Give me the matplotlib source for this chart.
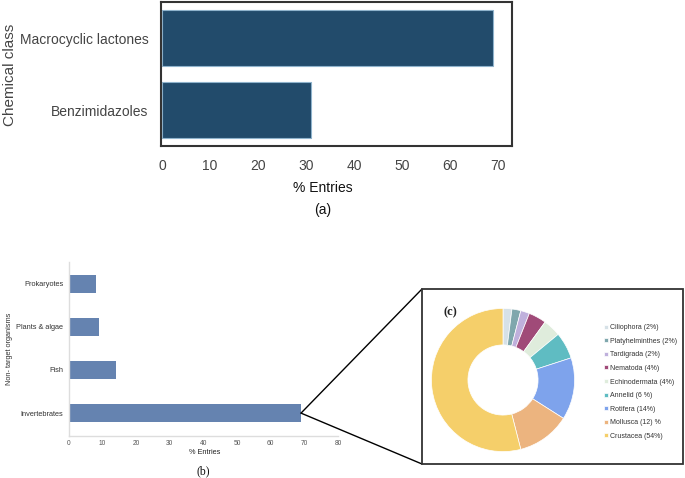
import numpy as np
import matplotlib
matplotlib.use("Agg")
import matplotlib.pyplot as plt
from matplotlib.patches import Rectangle, ConnectionPatch

plt.rcParams['font.family'] = ['Liberation Sans', 'DejaVu Sans']

# --------------------------------------------------------
# Data
# --------------------------------------------------------
chem_classes = ['Macrocyclic lactones', 'Benzimidazoles']
chem_entries = [69, 31]

organisms = ['Invertebrates', 'Fish', 'Plants & algae', 'Prokaryotes']
org_entries = [69, 14, 9, 8]

inv_groups = ['Ciliophora (2%)', 'Platyhelminthes (2%)', 'Tardigrada (2%)',
              'Nematoda (4%)', 'Echinodermata (4%)', 'Annelid (6 %)',
              'Rotifera (14%)', 'Mollusca (12) %', 'Crustacea (54%)']
inv_share = [2, 2, 2, 4, 4, 6, 14, 12, 54]
inv_colors = ['#d6e1e7', '#7fa7ad', '#bfb0dc', '#a04a78', '#dfecdc',
              '#5fbcc2', '#7ea3ec', '#ecb47f', '#f5cf6a']

W, H = 685, 478
fig = plt.figure(figsize=(W / 100, H / 100), dpi=100)


def box(x0, y0, x1, y1):
    # pixel box (top-left origin) -> figure fraction rect
    return [x0 / W, 1 - y1 / H, (x1 - x0) / W, (y1 - y0) / H]


def fx(x):
    return x / W


def fy(y):
    return 1 - y / H


# --------------------------------------------------------
# (a) chemical class
# --------------------------------------------------------
ax_a = fig.add_axes(box(161, 2, 512, 146))
ax_a.barh(range(len(chem_classes)), chem_entries, height=0.77,
          color='#224b6b', edgecolor='#8fb3cc', linewidth=0.8)
ax_a.set_xlim(-0.2, 72.9)
ax_a.set_ylim(1.5, -0.5)
ax_a.set_yticks(range(len(chem_classes)))
ax_a.set_yticklabels(chem_classes)
ax_a.set_xticks(np.arange(0, 71, 10))
ax_a.tick_params(length=0, labelsize=10, labelcolor='#444444')
ax_a.tick_params(axis='y', pad=9)
ax_a.tick_params(axis='x', pad=9)
for sp in ax_a.spines.values():
    sp.set_color('#333333')
    sp.set_linewidth(1.5)
fig.text(fx(10), fy(75), 'Chemical class', rotation=90, ha='center',
         va='center', fontsize=11, color='#444444')
fig.text(fx(323), fy(188), '% Entries', ha='center', va='center',
         fontsize=10, color='#111111')
fig.text(fx(323), fy(210), '(a)', ha='center', va='center',
         fontsize=10, color='#111111')

# --------------------------------------------------------
# (b) non-target organisms
# --------------------------------------------------------
ax_b = fig.add_axes(box(69, 262, 338, 436))
ax_b.barh(range(len(organisms)), org_entries, height=0.42, color='#6583b0')
ax_b.set_xlim(0, 80)
ax_b.set_ylim(-0.53, 3.5)
ax_b.set_yticks(range(len(organisms)))
ax_b.set_yticklabels(organisms)
ax_b.set_xticks(np.arange(0, 81, 10))
ax_b.tick_params(length=0, labelsize=5.3, labelcolor='#333333')
ax_b.tick_params(axis='x', labelsize=4.8, pad=3, labelcolor='#555555')
ax_b.tick_params(axis='y', pad=4)
for side in ['top', 'right']:
    ax_b.spines[side].set_visible(False)
for side in ['left', 'bottom']:
    ax_b.spines[side].set_color('#dddddd')
    ax_b.spines[side].set_linewidth(1.0)
fig.text(fx(10), fy(349), 'Non- target organisms', rotation=90, ha='center',
         va='center', fontsize=5.3, color='#333333')
fig.text(fx(205), fy(453), '% Entries', ha='center', va='center',
         fontsize=5.3, color='#222222')
fig.text(fx(203), fy(471), '(b)', ha='center', va='center',
         fontsize=8.5, family='Liberation Serif', color='#111111')

# --------------------------------------------------------
# (c) invertebrate breakdown
# --------------------------------------------------------
frame = Rectangle((fx(422), fy(464)), fx(683) - fx(422), fy(289) - fy(464),
                  transform=fig.transFigure, fill=False,
                  edgecolor='#333333', linewidth=1.3)
fig.patches.append(frame)

# zoom lines from invertebrates bar end to the box
for yc in [289, 464]:
    con = ConnectionPatch(xyA=(org_entries[0], 0), coordsA=ax_b.transData,
                          xyB=(fx(422), fy(yc)), coordsB=fig.transFigure,
                          color='black', linewidth=1.0)
    fig.add_artist(con)

ax_c = fig.add_axes(box(430, 307, 576, 453))
wedges, _ = ax_c.pie(inv_share, colors=inv_colors, startangle=90,
                     counterclock=False, radius=1,
                     wedgeprops=dict(width=0.51, edgecolor='white',
                                     linewidth=0.5))
ax_c.set_aspect('equal')
ax_c.set_xlim(-1.02, 1.02)
ax_c.set_ylim(-1.02, 1.02)
ax_c.axis('off')

fig.text(fx(450), fy(312), '(c)', ha='center', va='center', fontsize=9,
         family='Liberation Serif', fontweight='bold', color='#222222')

fig.legend(wedges, inv_groups, loc='center left',
           bbox_to_anchor=(fx(601), fy(382)), frameon=False,
           fontsize=5, handlelength=0.5, handleheight=0.5,
           handletextpad=0.35, labelspacing=0.95, borderpad=0,
           labelcolor='#333333')

fig.savefig('out.png', dpi=100, facecolor='white')
